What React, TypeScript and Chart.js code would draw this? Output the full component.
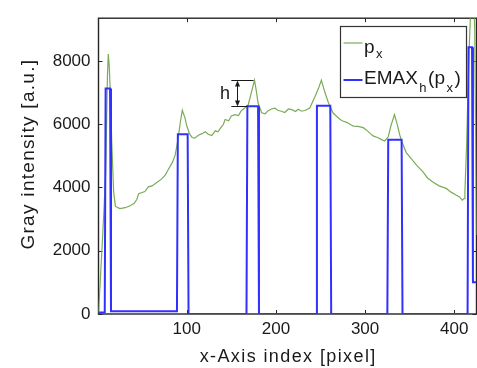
import { useEffect, useRef } from "react";
import { Chart, registerables } from "chart.js";

Chart.register(...registerables);

const FONT = "'Liberation Sans', Arial, Helvetica, sans-serif";

// axis ranges and ticks
const xRange = [1, 425];
const yRange = [0, 9350];
const xTicks = [100, 200, 300, 400];
const yTicks = [0, 2000, 4000, 6000, 8000];

// p_x : gray intensity profile
const pxIndex = [
  1, 3, 6, 9, 10, 11, 12, 13, 14, 16, 18, 20, 25, 31, 37, 41, 44, 46, 50, 53, 57, 61, 66, 72, 76, 79,
  84, 87, 90, 93, 95, 98, 100, 103, 106, 109, 113, 117, 121, 124, 128, 132, 135, 138, 141, 143, 147,
  150, 154, 158, 161, 165, 169, 172, 176, 178, 180, 184, 188, 191, 195, 199, 202, 206, 210, 214, 218,
  222, 225, 229, 233, 238, 244, 248, 251, 255, 259, 264, 268, 272, 275, 280, 284, 287, 292, 298, 303,
  306, 309, 314, 318, 322, 326, 329, 333, 336, 339, 341, 346, 352, 358, 365, 370, 376, 383, 391, 396,
  402, 406, 409, 411, 412, 414, 415, 417, 419, 421, 423, 425,
];
const pxValues = [
  30, 1050, 2650, 4400, 6000, 7500, 8220, 7850, 7150, 5330, 3860, 3400, 3330, 3360, 3430, 3500, 3620,
  3800, 3840, 3870, 4020, 4050, 4150, 4270, 4400, 4550, 4800, 5020, 5500, 6100, 6440, 6200, 5950, 5700,
  5580, 5560, 5650, 5700, 5760, 5680, 5640, 5790, 5760, 5880, 5990, 6150, 6110, 6260, 6300, 6270, 6420,
  6510, 6620, 6950, 7390, 7050, 6670, 6360, 6330, 6420, 6480, 6510, 6440, 6410, 6370, 6480, 6460, 6400,
  6470, 6410, 6440, 6510, 6880, 7150, 7390, 7000, 6670, 6360, 6250, 6150, 6100, 6050, 5980, 5940, 5930,
  5890, 5780, 5700, 5630, 5580, 5520, 5470, 5600, 5950, 6300, 6000, 5650, 5470, 5110, 4900, 4700, 4490,
  4300, 4170, 4050, 3970, 3860, 3760, 3700, 3600, 3650, 3860, 5420, 6570, 8540, 10000, 10800, 9000, 2500,
];

// EMAX_h(p_x) : step profile
const emaxIndex = [
  1, 8, 9, 14, 15, 89, 90, 101, 102, 167, 168, 180, 181, 245, 246, 261, 262, 325, 326, 341, 342, 415,
  416, 420, 421, 425,
];
const emaxValues = [
  50, 50, 7125, 7125, 90, 90, 5680, 5680, 0, 0, 6565, 6565, 0, 0, 6585, 6585, 0, 0, 5505, 5505, 0, 0,
  8430, 8430, 1005, 1005,
];

// "h" marker (data units)
const hArrowX = 156;
const hTopValue = 7390;
const hBottomValue = 6565;
const hLineFrom = 150;
const hTopTo = 175;
const hBottomTo = 168;
const hLabelX = 143;
const hLabelY = 6960;

const axisTitles = { x: "x-Axis index [pixel]", y: "Gray intensity [a.u.]" };

const GREEN = "rgb(122,172,88)";
const BLUE = "rgb(48,48,255)";
const INK = "#1a1a1a";

function patchTitle(scale: any, spacing: number, dx: number, dy: number) {
  if (scale.__patched) return;
  const orig = scale.drawTitle.bind(scale);
  scale.drawTitle = function () {
    const ctx = this.ctx as CanvasRenderingContext2D;
    ctx.save();
    (ctx as any).letterSpacing = spacing + "px";
    ctx.translate(dx, dy);
    orig();
    ctx.restore();
  };
  scale.__patched = true;
}

const boxPlugin = {
  id: "matlabBox",
  beforeDatasetsDraw(chart: any) {
    const { ctx, chartArea: a, scales } = chart;
    ctx.save();
    ctx.strokeStyle = "#262626";
    ctx.lineWidth = 1.4;
    ctx.strokeRect(a.left, a.top, a.right - a.left, a.bottom - a.top);
    ctx.lineWidth = 1;
    const tl = 4;
    for (const v of xTicks) {
      const p = Math.round(scales.x.getPixelForValue(v)) + 0.5;
      ctx.beginPath();
      ctx.moveTo(p, a.bottom);
      ctx.lineTo(p, a.bottom - tl);
      ctx.moveTo(p, a.top);
      ctx.lineTo(p, a.top + tl);
      ctx.stroke();
    }
    for (const v of yTicks) {
      const p = Math.round(scales.y.getPixelForValue(v)) + 0.5;
      ctx.beginPath();
      ctx.moveTo(a.left, p);
      ctx.lineTo(a.left + tl, p);
      ctx.moveTo(a.right, p);
      ctx.lineTo(a.right - tl, p);
      ctx.stroke();
    }
    ctx.restore();
  },
};

function arrowHead(ctx: CanvasRenderingContext2D, x: number, y: number, dir: number) {
  ctx.beginPath();
  ctx.moveTo(x, y);
  ctx.lineTo(x - 2.5, y + dir * 6);
  ctx.lineTo(x + 2.5, y + dir * 6);
  ctx.closePath();
  ctx.fill();
}

const annotationPlugin = {
  id: "hMarker",
  afterDatasetsDraw(chart: any) {
    const { ctx, scales } = chart;
    const sx = scales.x;
    const sy = scales.y;
    const yt = Math.round(sy.getPixelForValue(hTopValue)) + 0.5;
    const yb = Math.round(sy.getPixelForValue(hBottomValue)) + 0.5;
    const xa = Math.round(sx.getPixelForValue(hArrowX)) + 0.5;
    ctx.save();
    ctx.strokeStyle = INK;
    ctx.fillStyle = INK;
    ctx.lineWidth = 1;
    ctx.beginPath();
    ctx.moveTo(sx.getPixelForValue(hLineFrom), yt);
    ctx.lineTo(sx.getPixelForValue(hTopTo), yt);
    ctx.moveTo(sx.getPixelForValue(hLineFrom), yb);
    ctx.lineTo(sx.getPixelForValue(hBottomTo), yb);
    ctx.moveTo(xa, yt + 4);
    ctx.lineTo(xa, yb - 4);
    ctx.stroke();
    arrowHead(ctx, xa, yt, 1);
    arrowHead(ctx, xa, yb, -1);
    ctx.font = `18px ${FONT}`;
    ctx.textAlign = "center";
    ctx.textBaseline = "middle";
    ctx.fillText("h", sx.getPixelForValue(hLabelX), sy.getPixelForValue(hLabelY));
    ctx.restore();
  },
};

type Piece = { t: string; sub?: boolean };

const legendEntries: { color: string; pieces: Piece[] }[] = [
  { color: GREEN, pieces: [{ t: "p" }, { t: "x", sub: true }] },
  {
    color: BLUE,
    pieces: [{ t: "EMAX" }, { t: "h", sub: true }, { t: "(p" }, { t: "x", sub: true }, { t: ")" }],
  },
];

const legendPlugin = {
  id: "matlabLegend",
  afterDraw(chart: any) {
    const { ctx, chartArea: a } = chart;
    const w = 126;
    const h = 71;
    const L = Math.round(a.right - 136.5) + 0.5;
    const T = Math.round(a.top + 7.5) + 0.5;
    ctx.save();
    ctx.fillStyle = "#ffffff";
    ctx.fillRect(L, T, w, h);
    ctx.strokeStyle = "#333333";
    ctx.lineWidth = 1.2;
    ctx.strokeRect(L, T, w, h);
    const rows = [
      { line: T + 16.5, base: T + 26, subBase: T + 31 },
      { line: T + 53.5, base: T + 57.5, subBase: T + 65 },
    ];
    legendEntries.forEach((e, i) => {
      const r = rows[i];
      ctx.strokeStyle = e.color;
      ctx.lineWidth = e.color === BLUE ? 2 : 1.2;
      ctx.beginPath();
      ctx.moveTo(L + 3, r.line);
      ctx.lineTo(L + 22, r.line);
      ctx.stroke();
      let x = L + 23.5;
      ctx.fillStyle = INK;
      ctx.textAlign = "left";
      ctx.textBaseline = "alphabetic";
      e.pieces.forEach((p) => {
        if (p.sub) {
          ctx.font = `13px ${FONT}`;
          x += 1.5;
          ctx.fillText(p.t, x, r.subBase);
          x += ctx.measureText(p.t).width + 1.5;
        } else {
          ctx.font = `19px ${FONT}`;
          ctx.fillText(p.t, x, r.base);
          x += ctx.measureText(p.t).width;
        }
      });
    });
    ctx.restore();
  },
};

export default function App() {
  const ref = useRef<HTMLCanvasElement | null>(null);

  useEffect(() => {
    if (!ref.current) return;
    const chart = new Chart(ref.current, {
      type: "line",
      data: {
        datasets: [
          {
            label: "EMAX_h(p_x)",
            data: emaxIndex.map((x, i) => ({ x, y: emaxValues[i] })),
            borderColor: BLUE,
            borderWidth: 2,
            pointRadius: 0,
            tension: 0,
            fill: false,
            order: 0,
          },
          {
            label: "p_x",
            data: pxIndex.map((x, i) => ({ x, y: pxValues[i] })),
            borderColor: GREEN,
            borderWidth: 1.2,
            pointRadius: 0,
            tension: 0,
            fill: false,
            order: 1,
          },
        ],
      },
      options: {
        responsive: false,
        animation: false,
        devicePixelRatio: 1,
        layout: { padding: { top: 14, right: 0.5, left: 0, bottom: 0 } },
        plugins: {
          legend: { display: false },
          tooltip: { enabled: false },
        },
        scales: {
          x: {
            type: "linear",
            min: xRange[0],
            max: xRange[1],
            grid: { display: false, drawTicks: false },
            border: { display: false },
            afterBuildTicks: (s: any) => {
              s.ticks = xTicks.map((v) => ({ value: v }));
            },
            afterFit: (s: any) => {
              s.height = 54;
            },
            afterUpdate: (s: any) => patchTitle(s, 1.4, 0.7, 0),
            ticks: {
              color: INK,
              padding: 5,
              maxRotation: 0,
              font: { family: FONT, size: 17 },
              callback: (v: any) => String(v),
            },
            title: {
              display: true,
              text: axisTitles.x,
              color: INK,
              padding: { top: 0, bottom: 0 },
              font: { family: FONT, size: 18 },
            },
          },
          y: {
            type: "linear",
            min: yRange[0],
            max: yRange[1],
            grid: { display: false, drawTicks: false },
            border: { display: false },
            afterBuildTicks: (s: any) => {
              s.ticks = yTicks.map((v) => ({ value: v }));
            },
            afterFit: (s: any) => {
              s.width = 98.5;
            },
            afterUpdate: (s: any) => patchTitle(s, 1.3, 0, -12),
            ticks: {
              color: INK,
              padding: 8,
              font: { family: FONT, size: 17 },
              callback: (v: any) => String(v),
            },
            title: {
              display: true,
              text: axisTitles.y,
              color: INK,
              padding: { top: 17, bottom: 0 },
              font: { family: FONT, size: 19 },
            },
          },
        },
      },
      plugins: [boxPlugin, annotationPlugin, legendPlugin],
    });
    return () => chart.destroy();
  }, []);

  return (
    <div
      style={{
        position: "fixed",
        left: 0,
        top: 0,
        width: 477,
        height: 368,
        overflow: "hidden",
        background: "#fff",
      }}
    >
      <canvas ref={ref} width={477} height={368} style={{ display: "block" }} />
    </div>
  );
}
